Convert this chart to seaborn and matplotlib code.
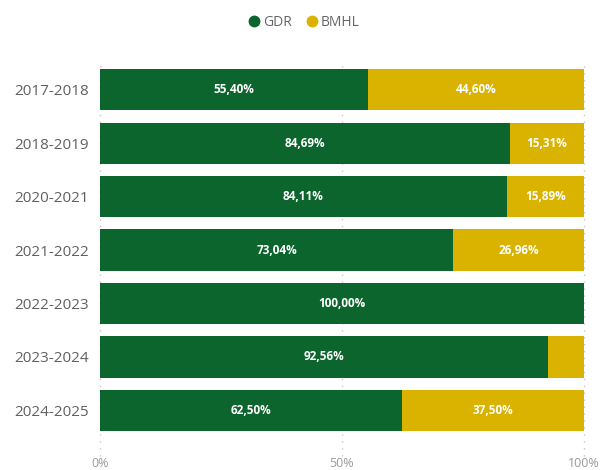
import matplotlib
matplotlib.use('Agg')
import matplotlib.pyplot as plt
import seaborn as sns
import pandas as pd
from matplotlib.lines import Line2D

# data
years = ['2017-2018', '2018-2019', '2020-2021', '2021-2022', '2022-2023', '2023-2024', '2024-2025']
gdr = [55.40, 84.69, 84.11, 73.04, 100.00, 92.56, 62.50]
bmhl = [44.60, 15.31, 15.89, 26.96, 0.00, 7.44, 37.50]

GREEN = '#0B652D'
YELLOW = '#DAB300'

df = pd.DataFrame({'year': years, 'GDR': gdr, 'BMHL': bmhl})
df['total'] = df['GDR'] + df['BMHL']

sns.set_style('white')
plt.rcParams['font.family'] = ['Open Sans', 'DejaVu Sans']

fig = plt.figure(figsize=(6, 4.7), dpi=100)
ax = fig.add_axes([0.1667, 0.070, 0.8063, 0.796])

sns.barplot(data=df, x='total', y='year', color=YELLOW, width=0.77, ax=ax,
            saturation=1, linewidth=0, zorder=2)
sns.barplot(data=df, x='GDR', y='year', color=GREEN, width=0.77, ax=ax,
            saturation=1, linewidth=0, zorder=3)

for i, (g, b) in enumerate(zip(gdr, bmhl)):
    ax.text(g / 2, i, f'{g:.2f}%'.replace('.', ','), color='white', ha='center',
            va='center', fontsize=8.5, fontweight='bold', zorder=4)
    if b >= 10:
        ax.text(g + b / 2, i, f'{b:.2f}%'.replace('.', ','), color='white', ha='center',
                va='center', fontsize=8.5, fontweight='bold', zorder=4)

ax.set_xlim(0, 100)
ax.set_xticks([0, 50, 100])
ax.set_xticklabels(['0%', '50%', '100%'])
for x in [0, 50, 100]:
    ax.axvline(x, color='#C8C8C8', linestyle=(0, (1, 4)), linewidth=1, zorder=1,
               ymin=-0.05, clip_on=False)
ax.set_xlabel('')
ax.set_ylabel('')
ax.tick_params(axis='x', colors='#999999', labelsize=9, length=0, pad=14)
ax.tick_params(axis='y', colors='#606060', labelsize=11, length=0, pad=8)
for s in ax.spines.values():
    s.set_visible(False)

handles = [Line2D([], [], marker='o', linestyle='', color=GREEN, markersize=7.5),
           Line2D([], [], marker='o', linestyle='', color=YELLOW, markersize=7.5)]
leg = fig.legend(handles, ['GDR', 'BMHL'], loc='center', bbox_to_anchor=(0.5, 0.953),
                 ncol=2, frameon=False, handletextpad=-0.4, columnspacing=0.5,
                 fontsize=10)
for t in leg.get_texts():
    t.set_color('#666666')

fig.savefig('out.png', dpi=100)
